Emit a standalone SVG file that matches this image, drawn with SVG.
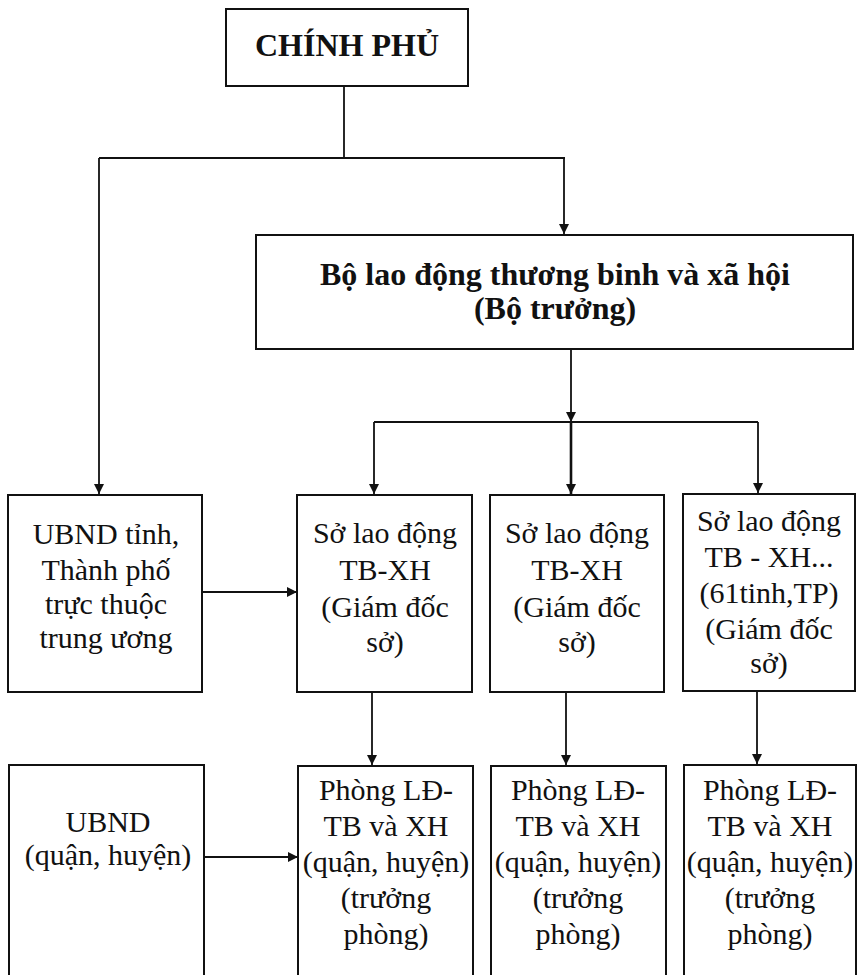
<svg xmlns="http://www.w3.org/2000/svg" width="857" height="975" viewBox="0 0 857 975">
<style>
.box{fill:#fff;stroke:#111;stroke-width:2}
.t{font-family:"Liberation Serif","Times New Roman",serif;font-size:30px;fill:#111;text-anchor:middle}
.b{font-family:"Liberation Serif","Times New Roman",serif;font-size:32px;font-weight:bold;fill:#111;text-anchor:middle}
.c{fill:none;stroke:#111;stroke-width:1.8}
</style>
<defs>
<marker id="ah" viewBox="0 0 10 10" refX="10" refY="5" markerWidth="10" markerHeight="10" markerUnits="userSpaceOnUse" orient="auto">
<path d="M0,0 L10,5 L0,10 Z" fill="#111"/>
</marker>
</defs>
<rect width="857" height="975" fill="#fff"/>
<g id="connectors">
<path class="c" d="M344,86 V158"/>
<path class="c" d="M99,158 H565"/>
<path class="c" d="M99,158 V494" marker-end="url(#ah)"/>
<path class="c" d="M564,158 V234" marker-end="url(#ah)"/>
<path class="c" d="M571,349 V422" marker-end="url(#ah)"/>
<path class="c" d="M374,422 H758"/>
<path class="c" d="M374,422 V494" marker-end="url(#ah)"/>
<path class="c" d="M571,422 V494" marker-end="url(#ah)" style="stroke-width:2.6"/>
<path class="c" d="M758,422 V493" marker-end="url(#ah)"/>
<path class="c" d="M202,592 H297" marker-end="url(#ah)"/>
<path class="c" d="M372,692 V765" marker-end="url(#ah)"/>
<path class="c" d="M566,692 V765" marker-end="url(#ah)"/>
<path class="c" d="M757,691 V764" marker-end="url(#ah)"/>
<path class="c" d="M204,857 H298" marker-end="url(#ah)"/>
</g>
<g id="chinh-phu">
<rect class="box" x="226" y="9" width="242" height="77"/>
<text class="b" x="347" y="56">CHÍNH PHỦ</text>
</g>
<g id="bo-ldtbxh">
<rect class="box" x="256" y="235" width="597" height="114"/>
<text class="b" x="555" y="285">Bộ lao động thương binh và xã hội</text>
<text class="b" x="555" y="319">(Bộ trưởng)</text>
</g>
<g id="ubnd-tinh">
<rect class="box" x="8" y="495" width="194" height="197"/>
<text class="t" x="106" y="544">UBND tỉnh,</text>
<text class="t" x="106" y="580">Thành phố</text>
<text class="t" x="106" y="614">trực thuộc</text>
<text class="t" x="106" y="648">trung ương</text>
</g>
<g id="so-1">
<rect class="box" x="297" y="495" width="175" height="197"/>
<text class="t" x="385" y="543">Sở lao động</text>
<text class="t" x="385" y="580">TB-XH</text>
<text class="t" x="385" y="617">(Giám đốc</text>
<text class="t" x="385" y="652">sở)</text>
</g>
<g id="so-2">
<rect class="box" x="490" y="495" width="174" height="197"/>
<text class="t" x="577" y="543">Sở lao động</text>
<text class="t" x="577" y="580">TB-XH</text>
<text class="t" x="577" y="617">(Giám đốc</text>
<text class="t" x="577" y="652">sở)</text>
</g>
<g id="so-3">
<rect class="box" x="683" y="494" width="172" height="197"/>
<text class="t" x="769" y="531">Sở lao động</text>
<text class="t" x="769" y="567">TB - XH...</text>
<text class="t" x="769" y="603">(61tinh,TP)</text>
<text class="t" x="769" y="639">(Giám đốc</text>
<text class="t" x="769" y="673">sở)</text>
</g>
<g id="ubnd-quan">
<rect class="box" x="9" y="765" width="195" height="230"/>
<text class="t" x="108" y="832">UBND</text>
<text class="t" x="108" y="865">(quận, huyện)</text>
</g>
<g id="phong-1">
<rect class="box" x="298" y="766" width="175" height="230"/>
<text class="t" x="386" y="800">Phòng LĐ-</text>
<text class="t" x="386" y="836">TB và XH</text>
<text class="t" x="386" y="872">(quận, huyện)</text>
<text class="t" x="386" y="908">(trưởng</text>
<text class="t" x="386" y="944">phòng)</text>
</g>
<g id="phong-2">
<rect class="box" x="491" y="766" width="175" height="230"/>
<text class="t" x="578" y="800">Phòng LĐ-</text>
<text class="t" x="578" y="836">TB và XH</text>
<text class="t" x="578" y="872">(quận, huyện)</text>
<text class="t" x="578" y="908">(trưởng</text>
<text class="t" x="578" y="944">phòng)</text>
</g>
<g id="phong-3">
<rect class="box" x="684" y="765" width="172" height="230"/>
<text class="t" x="770" y="800">Phòng LĐ-</text>
<text class="t" x="770" y="836">TB và XH</text>
<text class="t" x="770" y="872">(quận, huyện)</text>
<text class="t" x="770" y="908">(trưởng</text>
<text class="t" x="770" y="944">phòng)</text>
</g>
</svg>
